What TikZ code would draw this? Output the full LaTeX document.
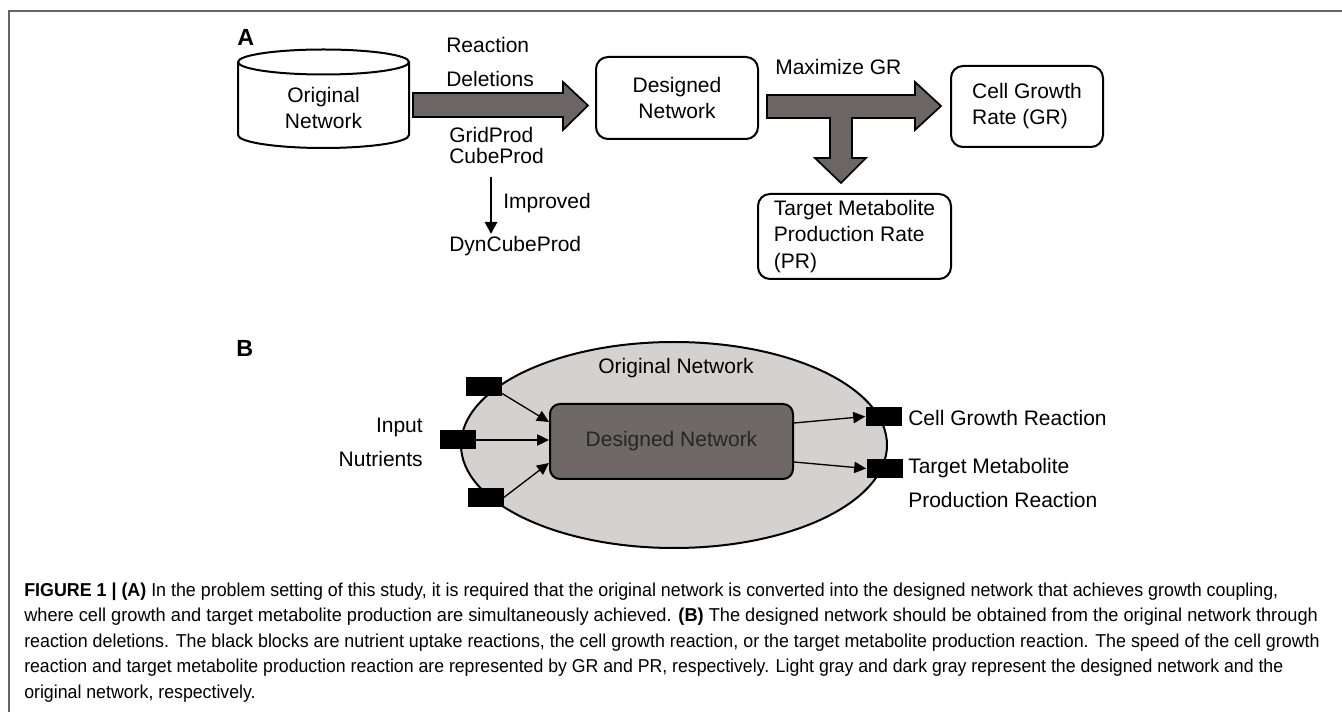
\documentclass[tikz,border=0pt]{standalone}
\usepackage{fontspec}
\setmainfont{Liberation Sans}
\newfontfamily\capfont[FakeStretch=0.975]{Liberation Sans}
\usetikzlibrary{arrows.meta,shapes.geometric,calc}
\definecolor{arrgray}{HTML}{6B6565}
\definecolor{ellgray}{HTML}{D4D1CF}
\definecolor{boxgray}{HTML}{6E6868}
\definecolor{framegray}{HTML}{666666}
\begin{document}
\begin{tikzpicture}[x=0.75pt,y=-0.75pt,
  every node/.style={font=\fontsize{15.75}{19.5}\selectfont},
  lbl/.style={inner sep=0, anchor=base west},
  rlbl/.style={inner sep=0, anchor=base east},
  panel/.style={inner sep=0, anchor=base west, font=\bfseries\fontsize{17.5}{20}\selectfont},
  rbox/.style={draw, line width=1.5pt, rounded corners=9pt, inner sep=0, fill=white},
  blockarrow/.style={draw, line width=1.3pt, fill=arrgray, line join=miter},
  blk/.style={fill=black, minimum width=27pt, minimum height=14.25pt, inner sep=0},
  conn/.style={line width=1pt, -{Triangle[length=9pt,width=8.5pt]}},
  capline/.style={inner sep=0, anchor=base west, font=\capfont\fontsize{14}{16}\selectfont},
]
\useasboundingbox (0,0) rectangle (1342,712);
\draw[framegray, line width=1.5pt] (1342,11) -- (9,11) -- (9,712);

% ---------- Panel A ----------
\node[panel] (labA) at (237,46) {A};
\draw[line width=1.5pt, fill=white] (238,62) -- (238,135)
  arc[start angle=180, end angle=0, x radius=85.5, y radius=13] -- (409,62);
\draw[line width=1.5pt] (323.5,62) ellipse [x radius=85.5, y radius=12.5];
\node[align=center, inner sep=0] (orig) at (323.5,107.5) {Original\\Network};

\draw[blockarrow] (413,93) -- (563,93) -- (563,82) -- (588,105.5) -- (563,130) -- (563,117) -- (413,117) -- cycle;

\node[lbl] (react) at (446,53) {Reaction};
\node[lbl] (delet) at (446,87) {Deletions};
\node[lbl] (grid) at (449,143) {GridProd};
\node[lbl] (cube) at (449,164) {CubeProd};
\node[lbl] (dyn) at (449,252) {DynCubeProd};
\node[lbl] (impr) at (503,209) {Improved};
\coordinate (imtop) at (491,177);
\draw[conn, -{Triangle[length=9pt,width=9.5pt]}, shorten >=2pt] (imtop) -- (imtop |- dyn.north);

\node[rbox, align=center, minimum width=121.5pt, minimum height=61.5pt] (desA) at (677,98) {Designed\\Network};

\draw[blockarrow] (767,95) -- (915,95) -- (915,82) -- (941,106) -- (915,130) -- (915,118)
  -- (852,118) -- (852,158) -- (866,158) -- (841,183) -- (815,158) -- (830,158) -- (830,118) -- (767,118) -- cycle;
\node[lbl] (maxgr) at (775,75) {Maximize GR};

\node[rbox, align=left, minimum width=114pt, minimum height=60.75pt] (cell) at (1027,106.5) {Cell Growth\\Rate (GR)};
\node[rbox, align=left, minimum width=144.75pt, minimum height=63.75pt, font=\fontsize{15.75}{19.9}\selectfont] (targ) at (854.5,236.5) {Target Metabolite\\Production Rate\\(PR)};

% ---------- Panel B ----------
\node[panel] (labB) at (236,357) {B};
\node[draw, ellipse, line width=1.5pt, fill=ellgray, minimum width=319.5pt, minimum height=154.5pt, inner sep=0] (orgB) at (674,445) {};
\node[inner sep=0] (orgBt) at (676,368.5) {Original Network};
\node[rbox, fill=boxgray, rounded corners=7.5pt, minimum width=182.25pt, minimum height=56.25pt, text=black!85] (desB) at (671.5,441.5) {Designed Network};

\node[blk] (in1) at (483.5,386.5) {};
\node[blk] (in2) at (457.5,440) {};
\node[blk] (in3) at (485.5,497.5) {};
\node[blk] (out1) at (883.5,416.5) {};
\node[blk] (out2) at (884.5,468.5) {};

\draw[conn] ($(in1.south east)+(0,-3)$) -- ($(desB.north west)+(0,19)$);
\draw[conn] (in2.east) -- (in2.east -| desB.west);
\draw[conn] (in3.east) -- ($(desB.south west)+(0,-17)$);
\draw[conn] ($(desB.north east)+(0,20)$) -- (out1.west);
\draw[conn] ($(desB.south east)+(0,-18)$) -- (out2.west);

\node[rlbl] (inp) at (423,433) {Input};
\node[rlbl] (nutr) at (423,467) {Nutrients};
\node[lbl] (cgr) at (908,426) {Cell Growth Reaction};
\node[lbl] (tm) at (908,474) {Target Metabolite};
\node[lbl] (pr) at (908,508) {Production Reaction};

% ---------- Caption ----------
\node[capline] (cap1) at (24,596) {\scalebox{0.981}[1]{\textbf{FIGURE 1 | (A)} In the problem setting of this study, it is required that the original network is converted into the designed network that achieves growth coupling,}};
\node[capline] (cap2) at (24,621.5) {where cell growth and target metabolite production are simultaneously achieved. \textbf{(B)} The designed network should be obtained from the original network through};
\node[capline] (cap3) at (24,647) {\scalebox{0.981}[1]{reaction deletions. The black blocks are nutrient uptake reactions, the cell growth reaction, or the target metabolite production reaction. The speed of the cell growth}};
\node[capline] (cap4) at (24,672.5) {\scalebox{0.972}[1]{reaction and target metabolite production reaction are represented by GR and PR, respectively. Light gray and dark gray represent the designed network and the}};
\node[capline] (cap5) at (24,698) {\scalebox{0.975}[1]{original network, respectively.}};
\end{tikzpicture}
\end{document}
